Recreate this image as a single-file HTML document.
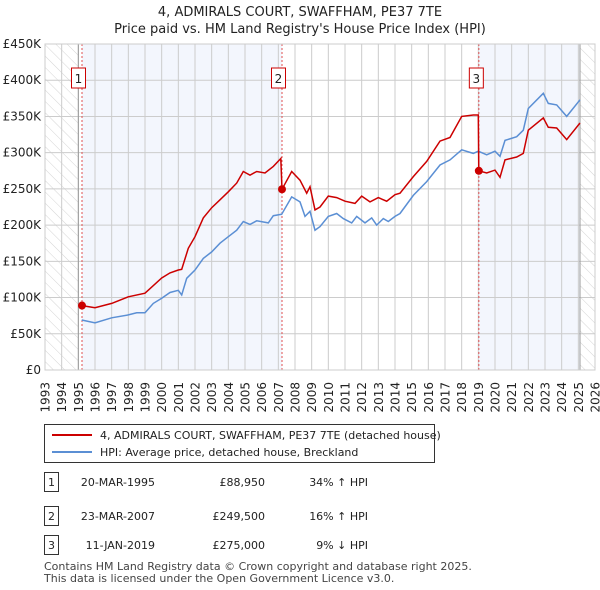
<!DOCTYPE html>
<html><head><meta charset="utf-8"><style>
body{margin:0;background:#fff;font-family:"Liberation Sans","DejaVu Sans",sans-serif;}
#wrap{position:relative;width:600px;height:590px;overflow:hidden}
svg text{font-family:"DejaVu Sans","Liberation Sans",sans-serif;}
</style></head><body>
<div id="wrap">
<svg id="chart" width="600" height="590">
<defs><pattern id="hatch" width="8" height="8" patternUnits="userSpaceOnUse" patternTransform="rotate(-45)"><line x1="0" y1="0" x2="0" y2="8" stroke="#d4d4d4" stroke-width="1"/></pattern></defs>
<text x="300" y="16" text-anchor="middle" font-size="13" fill="#222">4, ADMIRALS COURT, SWAFFHAM, PE37 7TE</text>
<text x="300" y="33" text-anchor="middle" font-size="13" fill="#222">Price paid vs. HM Land Registry's House Price Index (HPI)</text>
<g id="plot"></g>
</svg>
</div>
<script>
const yTicks=[0,50,100,150,200,250,300,350,400,450];
const yTickLabels=["£0","£50K","£100K","£150K","£200K","£250K","£300K","£350K","£400K","£450K"];
const xYears=[1993,1994,1995,1996,1997,1998,1999,2000,2001,2002,2003,2004,2005,2006,2007,2008,2009,2010,2011,2012,2013,2014,2015,2016,2017,2018,2019,2020,2021,2022,2023,2024,2025,2026];
const saleDates=[1995.22,2007.22,2019.03];
const salePrices=[88.95,249.5,275];
const saleLabels=["1","2","3"];
const hpiDates=[1995.2,1996,1997,1998,1998.5,1999,1999.5,2000,2000.5,2001,2001.2,2001.5,2002,2002.5,2003,2003.5,2004,2004.5,2004.9,2005.3,2005.7,2006.4,2006.7,2007.2,2007.8,2008.3,2008.6,2008.9,2009.2,2009.5,2010,2010.5,2010.9,2011.4,2011.7,2012.2,2012.6,2012.9,2013.3,2013.6,2014,2014.3,2015.1,2015.9,2016.7,2017.3,2018,2018.7,2019,2019.5,2020,2020.3,2020.6,2021.3,2021.7,2022,2022.9,2023.2,2023.7,2024.3,2025.1];
const hpiValues=[69,65,72,76,79,79,92,99,107,110,103.5,126.6,138,154,163,175,184,193,205,201,206,203,213,215,239,232,212,219,193,198,212,216,209,203,212,203,210,200,209,205,212,216,241,260,283,290,304,299,302,297,302,295,317,322,331,361,382,368,366,350,373];
const priceDates=[1995.22,1996,1997,1998,1999,2000,2000.5,2001,2001.2,2001.6,2002,2002.5,2003,2003.5,2004,2004.5,2004.9,2005.3,2005.7,2006.2,2006.7,2007.15,2007.22,2007.8,2008.3,2008.7,2008.9,2009.2,2009.5,2010,2010.5,2011,2011.6,2012,2012.5,2013,2013.5,2014,2014.3,2015.1,2015.9,2016.7,2017.3,2018,2018.7,2019.0,2019.03,2019.5,2020,2020.3,2020.6,2021.3,2021.7,2022,2022.9,2023.2,2023.7,2024.3,2025.1];
const priceValues=[88.95,86,92,101,106,127,134,138,139,168,184,210,224,235,246,258,274,269,274,272,281,292,249.5,274,262,244,253,221,225,240,238,233,230,240,232,238,233,242,244,267,288,316,321,350,352,352,275,272,276,266,290,294,299,331,348,335,334,318,341];
const L=45,R=595,T=44,B=370,Y0=1993,Y1=2026,VMAX=450;
const X=y=>L+(y-Y0)/(Y1-Y0)*(R-L);
const Y=v=>B-v/VMAX*(B-T);
const NS="http://www.w3.org/2000/svg";
const g=document.getElementById('plot');
function mk(t,a,p){const e=document.createElementNS(NS,t);for(const k in a)e.setAttribute(k,a[k]);(p||g).appendChild(e);return e;}
let e;
e=mk('rect',{x:L,y:T,width:R-L,height:B-T,fill:'#fff'});


e=mk('rect',{x:X(saleDates[0]),y:T,width:X(saleDates[1])-X(saleDates[0]),height:B-T,fill:'#f3f6fd'});


e=mk('rect',{x:X(saleDates[2]),y:T,width:X(2025.1)-X(saleDates[2]),height:B-T,fill:'#f3f6fd'});


e=mk('rect',{x:L,y:T,width:X(1995)-L,height:B-T,fill:'url(#hatch)'});


e=mk('rect',{x:X(2025.1),y:T,width:R-X(2025.1),height:B-T,fill:'url(#hatch)'});


xYears.forEach(yr=>{const x=X(yr);
 e=mk('line',{x1:x,x2:x,y1:T,y2:B,stroke:'#ccc','stroke-width':1});
 
 
 e=mk('text',{x:0,y:0,'text-anchor':'end','font-size':12,fill:'#222',transform:'translate('+(x+4.5)+','+(B+12)+') rotate(-90)'});e.textContent=yr;
 
 
});
yTicks.forEach((v,i)=>{const y=Y(v);
 e=mk('line',{x1:L,x2:R,y1:y,y2:y,stroke:'#ccc','stroke-width':1});
 
 
 e=mk('text',{x:L-4,y:y+4,'text-anchor':'end','font-size':12,fill:'#222'});e.textContent=yTickLabels[i];
 
 
});
e=mk('line',{x1:X(1995),x2:X(1995),y1:T,y2:B,stroke:'#999','stroke-width':1});


e=mk('line',{x1:X(2025.1),x2:X(2025.1),y1:T,y2:B,stroke:'#999','stroke-width':1});


saleDates.forEach((d,i)=>{const x=X(d);
 e=mk('line',{x1:x,x2:x,y1:T,y2:B,stroke:'#e05050','stroke-width':1,'stroke-dasharray':'2,2'});
 
 
 const bx=i==2?x-9:x-10;
 e=mk('rect',{x:bx-0.5,y:68,width:14,height:20,fill:'#fff',stroke:'#c00','stroke-width':1});
 
 
 e=mk('text',{x:bx+6.5,y:83,'text-anchor':'middle','font-size':12,fill:'#222'});e.textContent=saleLabels[i];
 
 
});
const pts=(ds,vs)=>ds.map((d,i)=>X(d).toFixed(1)+','+Y(vs[i]).toFixed(1)).join(' ');
e=mk('polyline',{points:pts(hpiDates,hpiValues),fill:'none',stroke:'#5b8fd4','stroke-width':1.5});


e=mk('polyline',{points:pts(priceDates,priceValues),fill:'none',stroke:'#cc0000','stroke-width':1.5});


saleDates.forEach((d,i)=>{
 e=mk('circle',{cx:X(d),cy:Y(salePrices[i]),r:4,fill:'#cc0000'});
 
 
});
e=mk('rect',{x:L,y:T,width:R-L,height:B-T,fill:'none',stroke:'#ccc'});


e=mk('rect',{x:44.5,y:424.5,width:390,height:38,fill:'#fff',stroke:'#333'});


e=mk('line',{x1:52,x2:92,y1:435,y2:435,stroke:'#cc0000','stroke-width':2});


e=mk('text',{x:100,y:439,'font-size':11,fill:'#222'});e.textContent='4, ADMIRALS COURT, SWAFFHAM, PE37 7TE (detached house)';


e=mk('line',{x1:52,x2:92,y1:452,y2:452,stroke:'#5b8fd4','stroke-width':2});


e=mk('text',{x:100,y:456,'font-size':11,fill:'#222'});e.textContent='HPI: Average price, detached house, Breckland';


const rowY=[482,516,545];
const rowDate=["20-MAR-1995","23-MAR-2007","11-JAN-2019"];
const rowPrice=["£88,950","£249,500","£275,000"];
const rowHpi=["34% ↑ HPI","16% ↑ HPI","9% ↓ HPI"];
rowY.forEach((y,i)=>{
 e=mk('rect',{x:44.5,y:y-9.5,width:14,height:19,fill:'#fff',stroke:'#333'});
 
 
 e=mk('text',{x:51.5,y:y+4,'text-anchor':'middle','font-size':11,fill:'#222'});e.textContent=saleLabels[i];
 
 
 e=mk('text',{x:155,y:y+4,'text-anchor':'end','font-size':11,fill:'#222'});e.textContent=rowDate[i];
 
 
 e=mk('text',{x:265,y:y+4,'text-anchor':'end','font-size':11,fill:'#222'});e.textContent=rowPrice[i];
 
 
 e=mk('text',{x:368,y:y+4,'text-anchor':'end','font-size':11,fill:'#222'});e.textContent=rowHpi[i];
 
 
});
e=mk('text',{x:44,y:570,'font-size':11,fill:'#444'});e.textContent='Contains HM Land Registry data © Crown copyright and database right 2025.';


e=mk('text',{x:44,y:582,'font-size':11,fill:'#444'});e.textContent='This data is licensed under the Open Government Licence v3.0.';


</script>
</body></html>
